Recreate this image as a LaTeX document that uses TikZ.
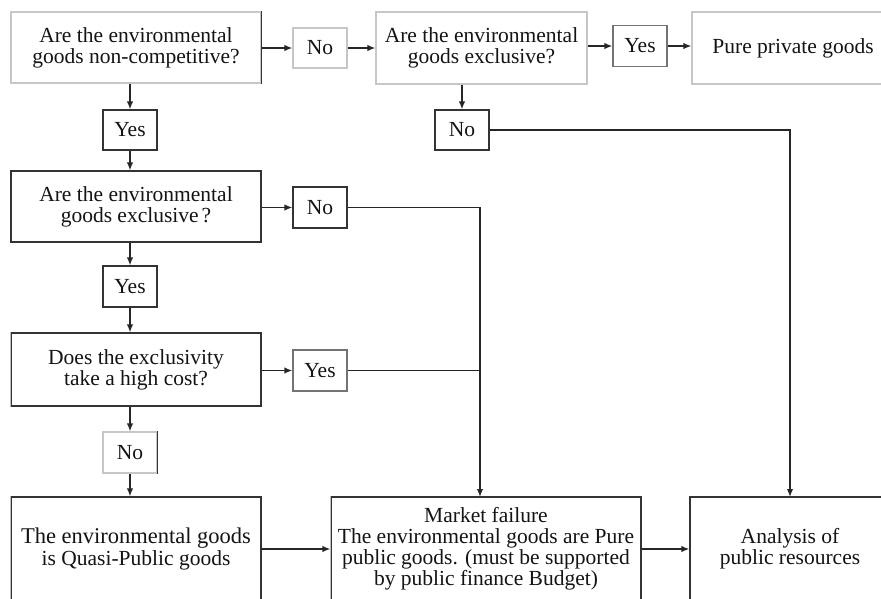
\documentclass[tikz,border=0pt]{standalone}
\usepackage{fontspec}
\setmainfont{Liberation Serif}
\usetikzlibrary{arrows.meta}
\begin{document}
\begin{tikzpicture}[x=1pt,y=-1pt,
  every node/.style={inner sep=0pt, align=center, text=black!92,
    font=\fontsize{21.5}{21}\selectfont},
  darkbox/.style={draw=black!80, line width=1.2pt},
  midbox/.style={draw=black!55, line width=1.2pt},
  lightbox/.style={draw=black!22, line width=1.2pt},
  darkedge/.style={draw=black!80, line width=1.2pt},
  lightedge/.style={draw=black!25, line width=1.2pt},
  size/.style n args={2}{minimum width=#1pt, minimum height=#2pt},
  link/.style={draw=black!85, line width=1.5pt},
  arr/.style={link, -{Latex[length=8pt,width=6.5pt]}}
]
\fill[white] (0,0) rectangle (881,598);
\useasboundingbox (0,0) rectangle (881,598);

% top row
\node[lightbox, size={250}{71}] (q1) at (136,47.5)
  {Are the environmental\\goods non-competitive?};
\node[lightbox, size={54}{40}] (n1) at (320,48) {No};
\node[lightbox, size={211}{72}] (q2) at (481.5,48)
  {Are the environmental\\goods exclusive?};
\node[midbox, size={54}{41}] (y1) at (640,46) {Yes};
\node[lightbox, size={202}{72}] (pp) at (793,48) {Pure private goods};
\node[darkbox, size={54}{40}] (n3) at (462,130) {No};

% left column
\node[darkbox, size={54}{40}] (y2) at (130,130) {Yes};
\node[darkbox, size={250}{71}] (q3) at (136,206.5)
  {Are the environmental\\goods exclusive\kern3pt?};
\node[darkbox, size={54}{41}] (n4) at (320,207.5) {No};
\node[darkbox, size={54}{41}] (y3) at (130,286.5) {Yes};
\node[darkbox, size={250}{73}] (q4) at (136,369.5)
  {Does the exclusivity\\take a high cost?};
\node[midbox, size={54}{41}] (y4) at (320,370.5) {Yes};
\node[lightbox, size={54}{41}] (n5) at (130,452.5) {No};

% bottom row
\node[darkbox, size={250}{104}] (qp) at (136,549)
  {\fontsize{22.5}{21}\selectfont The environmental goods\\[1pt]is Quasi-Public goods};
\node[darkbox, size={310}{104}] (mf) at (486,549)
  {\raisebox{8pt}{\parbox{310pt}{\centering Market failure\\
   The environmental goods are Pure\\public goods. (must be supported\\by public finance Budget)}}};
\node[darkbox, size={200}{104}] (ar) at (790,549)
  {Analysis of\\public resources};

% edge shading of some boxes
\draw[darkedge] (q1.north east) -- (q1.south east);
\draw[darkedge] (n5.north east) -- (n5.south east);
\draw[lightedge] (qp.north west) -- (qp.south west);
\draw[lightedge] (mf.north west) -- (mf.south west);
\draw[lightedge] (q4.north west) -- (q4.south west);

\coordinate (mtop) at (480,497);
\coordinate (atop) at (790,497);

% connectors
\draw[arr] (q1.east |- n1.west) -- (n1.west);
\draw[arr] (n1.east) -- (n1.east -| q2.west);
\draw[arr] (q2.east |- y1.west) -- (y1.west);
\draw[arr] (y1.east) -- (y1.east -| pp.west);
\draw[arr] (n3.north |- q2.south) -- (n3.north);
\draw[arr] (n3.east) -| (atop);

\draw[arr] (y2.north |- q1.south) -- (y2.north);
\draw[arr] (y2.south) -- (y2.south |- q3.north);
\draw[arr] (q3.east |- n4.west) -- (n4.west);
\draw[arr] (n4.east) -| (mtop);
\draw[arr] (y3.north |- q3.south) -- (y3.north);
\draw[arr] (y3.south) -- (y3.south |- q4.north);
\draw[arr] (q4.east |- y4.west) -- (y4.west);
\draw[link] (y4.east) -- (y4.east -| mtop);
\draw[arr] (n5.north |- q4.south) -- (n5.north);
\draw[arr] (n5.south) -- (n5.south |- qp.north);

\draw[arr] (qp.east) -- (mf.west);
\draw[arr] (mf.east) -- (ar.west);
\end{tikzpicture}
\end{document}
